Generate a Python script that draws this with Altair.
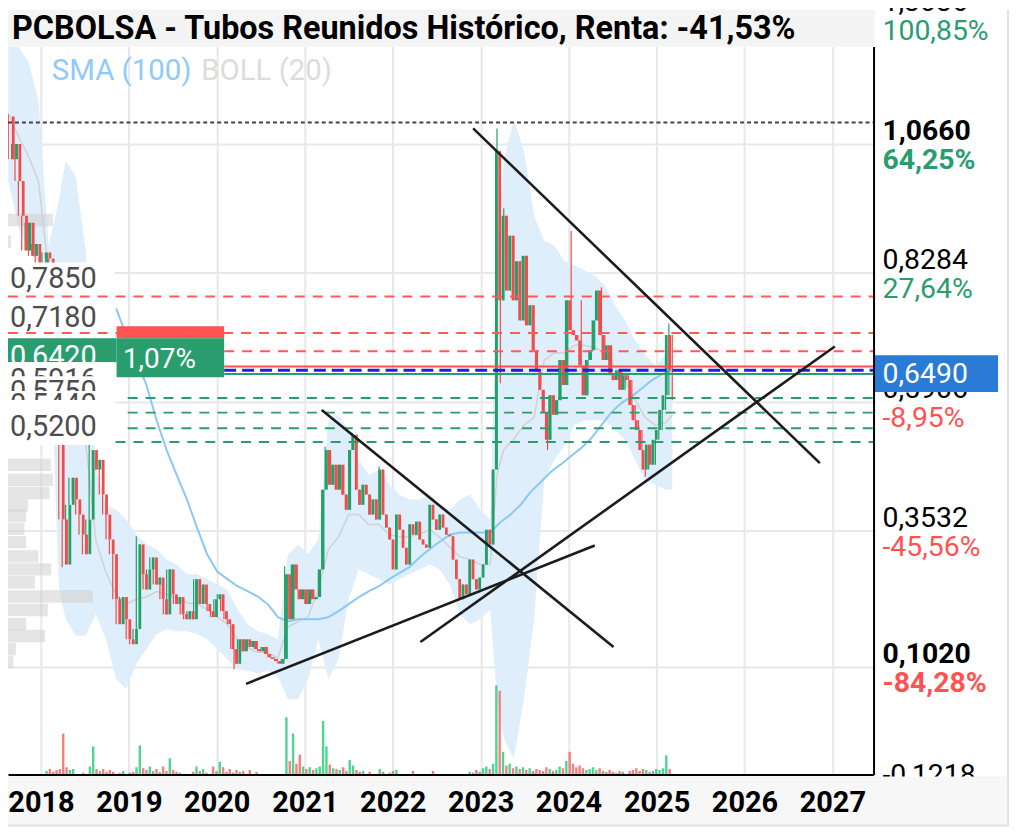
import altair as alt
import pandas as pd

FONT = "Roboto"
GREEN = "#23a06a"
RED = "#f24b4b"
TXT_GREEN = "#2a9d6f"
TXT_RED = "#ff5252"

# ---------------- candles (14-day bars) ----------------
start_date = "2017-08-18"
first_open = 1.117
closes = [
    1.038, 1.066, 0.998, 0.934, 0.870, 0.921, 0.860, 0.882, 0.824, 0.805,
    0.866, 0.855, 0.778, 0.704, 0.594, 0.374, 0.291, 0.401, 0.451, 0.411,
    0.383, 0.346, 0.310, 0.374, 0.502, 0.466, 0.484, 0.420, 0.383, 0.337,
    0.310, 0.227, 0.181, 0.231, 0.190, 0.153, 0.144, 0.172, 0.328, 0.273,
    0.245, 0.282, 0.304, 0.254, 0.267, 0.227, 0.199, 0.282, 0.236, 0.218,
    0.231, 0.199, 0.190, 0.205, 0.190, 0.264, 0.218, 0.254, 0.218, 0.205,
    0.194, 0.227, 0.236, 0.205, 0.190, 0.181, 0.135, 0.108, 0.153, 0.131,
    0.153, 0.139, 0.150, 0.135, 0.131, 0.139, 0.126, 0.120, 0.117, 0.113,
    0.108, 0.117, 0.273, 0.190, 0.291, 0.245, 0.227, 0.245, 0.218, 0.245,
    0.227, 0.231, 0.282, 0.429, 0.502, 0.438, 0.475, 0.429, 0.475, 0.420,
    0.392, 0.502, 0.530, 0.429, 0.401, 0.438, 0.420, 0.383, 0.411, 0.374,
    0.466, 0.383, 0.359, 0.337, 0.282, 0.383, 0.355, 0.322, 0.291, 0.365,
    0.346, 0.370, 0.337, 0.328, 0.322, 0.401, 0.374, 0.355, 0.383, 0.359,
    0.346, 0.343, 0.300, 0.264, 0.227, 0.254, 0.236, 0.300, 0.264, 0.245,
    0.267, 0.291, 0.355, 0.328, 0.466, 1.053, 0.778, 0.934, 0.796, 0.897,
    0.778, 0.850, 0.741, 0.860, 0.732, 0.769, 0.686, 0.646, 0.613, 0.572,
    0.521, 0.603, 0.567, 0.594, 0.668, 0.622, 0.778, 0.723, 0.714, 0.704,
    0.658, 0.603, 0.668, 0.686, 0.741, 0.796, 0.714, 0.668, 0.695, 0.640,
    0.631, 0.649, 0.613, 0.640, 0.631, 0.585, 0.557, 0.539, 0.502, 0.466,
    0.512, 0.475, 0.521, 0.539, 0.576, 0.603, 0.714, 0.649,
]
wick_idx = [0, 16, 24, 38, 67, 82, 94, 102, 110, 145, 146, 147, 160, 167, 170, 176, 189, 196, 197]
wick_high = [1.121, None, 0.515, 0.343, None, 0.288, 0.508, 0.534, 0.471, 1.095, None, 0.948,
             None, 0.906, 0.778, 0.802, None, 0.735, None]
wick_low = [None, 0.286, None, None, 0.098, None, None, None, None, None, 0.625, None,
            0.502, None, None, None, 0.453, None, 0.594]
volumes = [
    0, 0, 0, 0, 0, 0, 0, 0, 0, 0,
    0.4, 0.6, 0.3, 0.5, 0.6, 4.5, 0.8, 0.5, 0.6, 0,
    0, 0.2, 0, 0.9, 3.1, 0.6, 0.4, 0.6, 0.3, 0.5,
    0.3, 0, 0.2, 0.4, 0, 0.2, 0.3, 0.8, 3.2, 0.7,
    0.5, 0.9, 0.4, 0.6, 0.3, 0.9, 0.4, 1.8, 0.5, 0.3,
    0.2, 0, 0, 0, 0.3, 0.9, 0.4, 0.6, 0.2, 0,
    0.9, 0.4, 1.4, 0.8, 0.3, 0.6, 0.2, 0.5, 0.3, 0.4,
    0, 0.5, 0, 0.3, 0, 0, 0, 0, 0, 0,
    0, 0, 6.3, 1.5, 4.5, 1.2, 2.2, 0.9, 0.6, 0.8,
    0.5, 0.7, 0.9, 5.9, 3.1, 1.1, 0.7, 0.6, 0.5, 0.8,
    0.4, 1.6, 1.0, 0.5, 0.3, 0.4, 0, 0.3, 0, 0,
    0.6, 0.3, 0, 0.2, 0.4, 0.5, 0, 0, 0, 0,
    0.4, 0, 0, 0, 0, 0, 0.4, 0, 0, 0,
    0, 0, 0, 0, 0, 0, 0, 0.3, 0.2, 0.5,
    0.3, 0.7, 0.9, 0.6, 1.2, 9.8, 9.2, 2.5, 1.0, 1.2,
    0.7, 0.9, 0.6, 0.8, 0.5, 0.7, 0.4, 0.6, 0.5, 0.4,
    0.8, 0.6, 0.4, 0.5, 0.9, 0.7, 1.5, 2.5, 1.2, 0.8,
    1.0, 0.7, 0.5, 0.6, 0.8, 0.5, 0.7, 0.4, 0.3, 0.5,
    0.3, 0.2, 0.4, 0.3, 0, 0.4, 0.5, 0.7, 0.4, 0.6,
    0.5, 0.3, 0.4, 0.6, 0.5, 0.7, 2.1, 0.6,
]

# ---------------- Bollinger (20) ----------------
band_idx = [0, 3, 6, 9, 12, 15, 17, 20, 23, 26, 29, 32, 35, 38, 41, 44, 47, 50, 53, 56,
            59, 62, 65, 68, 71, 74, 77, 80, 83, 86, 89, 92, 95, 98, 101, 104, 107, 110, 113, 116,
            119, 122, 125, 128, 131, 134, 137, 140, 143, 145, 147, 150, 153, 156, 159, 162, 165, 168, 171, 174,
            177, 180, 183, 186, 189, 192, 195, 197]
band_upper = [1.246, 1.246, 1.218, 1.145, 0.879, 0.961, 1.035, 1.007, 0.870, 0.470,
              0.400, 0.392, 0.374, 0.346, 0.328, 0.319, 0.300, 0.291, 0.273, 0.273,
              0.264, 0.254, 0.245, 0.208, 0.181, 0.168, 0.163, 0.153, 0.310, 0.328,
              0.310, 0.337, 0.557, 0.567, 0.539, 0.484, 0.456, 0.466, 0.438, 0.420,
              0.411, 0.411, 0.420, 0.401, 0.392, 0.411, 0.420, 0.392, 0.374, 0.870,
              1.035, 1.112, 1.053, 0.934, 0.888, 0.879, 0.851, 0.842, 0.833, 0.824,
              0.805, 0.769, 0.741, 0.704, 0.677, 0.658, 0.677, 0.704]
band_lower = [0.998, 0.915, 0.870, 0.848, 0.778, 0.250, 0.190, 0.160, 0.160, 0.200,
              0.153, 0.080, 0.062, 0.108, 0.135, 0.163, 0.172, 0.168, 0.168, 0.163,
              0.153, 0.135, 0.117, 0.098, 0.095, 0.090, 0.095, 0.084, 0.043, 0.043,
              0.080, 0.153, 0.080, 0.117, 0.227, 0.282, 0.273, 0.264, 0.254, 0.264,
              0.273, 0.282, 0.291, 0.282, 0.254, 0.199, 0.181, 0.190, 0.208, 0.043,
              -0.030, -0.067, 0.043, 0.190, 0.447, 0.484, 0.511, 0.548, 0.557, 0.557,
              0.557, 0.539, 0.521, 0.484, 0.447, 0.438, 0.429, 0.429]

# ---------------- SMA (100) ----------------
sma_idx = list(range(32, 198, 3))
sma_values = [0.763, 0.714, 0.668, 0.622, 0.557, 0.502, 0.456, 0.411, 0.359, 0.310,
              0.278, 0.264, 0.251, 0.242, 0.232, 0.218, 0.194, 0.186, 0.190, 0.190,
              0.190, 0.194, 0.205, 0.218, 0.231, 0.242, 0.251, 0.264, 0.275, 0.286,
              0.304, 0.319, 0.333, 0.346, 0.350, 0.350, 0.350, 0.350, 0.369, 0.383,
              0.401, 0.425, 0.443, 0.462, 0.476, 0.491, 0.506, 0.524, 0.548, 0.572,
              0.589, 0.601, 0.616, 0.631, 0.642, 0.649]

# ---------------- volume profile ----------------
profile_price = [0.926, 0.886, 0.475, 0.447, 0.423, 0.400, 0.381, 0.357, 0.332, 0.306,
                 0.282, 0.258, 0.232, 0.207, 0.181, 0.159, 0.135, 0.111]
profile_size = [5.2, 0.35, 5.0, 5.2, 4.8, 2.3, 2.1, 1.9, 2.1, 3.5,
                5.0, 3.1, 9.8, 4.6, 2.1, 4.3, 0.9, 0.6]

# ---------------- horizontal levels ----------------
level_price = [1.106, 0.785, 0.718, 0.684, 0.656, 0.649, 0.642, 0.598, 0.571, 0.542, 0.517]
level_style = ["dot", "red_dash", "red_dash", "red_dash", "red_solid", "blue_dash",
               "green_solid", "green_dash", "green_dash", "green_dash", "green_dash"]
level_start = ["2017-08-17", "2017-08-17", "2017-08-17", "2020-02-01", "2020-02-01", "2020-02-01",
               "2020-02-01", "2018-12-27", "2018-12-27", "2018-12-27", "2017-08-17"]
level_end = ["2027-06-21"] * len(level_price)

# ---------------- trend lines ----------------
trend_start_date = ["2022-12-01", "2021-03-12", "2020-05-02", "2022-04-26"]
trend_start_price = [1.095, 0.576, 0.071, 0.148]
trend_end_date = ["2026-11-10", "2024-07-06", "2024-04-19", "2027-01-11"]
trend_end_price = [0.478, 0.139, 0.326, 0.693]

# ---------------- right axis labels ----------------
axis_values = [1.3036, 1.066, 0.8284, 0.5906, 0.3532, 0.102, -0.1218]
axis_price_labels = ["1,3036", "1,0660", "0,8284", "0,5906", "0,3532", "0,1020", "-0,1218"]
axis_pct_labels = ["100,85%", "64,25%", "27,64%", "-8,95%", "-45,56%", "-84,28%", ""]
axis_bold = [False, True, False, False, False, True, False]
grid_values = [1.066, 0.8284, 0.5906, 0.3532, 0.102]
years = list(range(2018, 2028))

title_text = "PCBOLSA - Tubos Reunidos Histórico, Renta: -41,53%"

# ---------------- build tables ----------------
candle_dates = pd.date_range(start_date, periods=len(closes), freq="14D").strftime("%Y-%m-%d").tolist()
opens = [first_open] + closes[:-1]
highs = [max(o, c) for o, c in zip(opens, closes)]
lows = [min(o, c) for o, c in zip(opens, closes)]
for i, h, l in zip(wick_idx, wick_high, wick_low):
    if h is not None:
        highs[i] = max(highs[i], h)
    if l is not None:
        lows[i] = min(lows[i], l)
candles = pd.DataFrame({"date": candle_dates, "open": opens, "close": closes,
                        "high": highs, "low": lows, "vol": volumes})
band = pd.DataFrame({"date": [candle_dates[i] for i in band_idx], "up": band_upper, "lo": band_lower})
sma = pd.DataFrame({"date": [candle_dates[i] for i in sma_idx], "sma": sma_values})
half_bin = 0.0115
profile = pd.DataFrame({"lo": [p - half_bin for p in profile_price],
                        "hi": [p + half_bin for p in profile_price],
                        "z": [0] * len(profile_price), "w": profile_size})
levels = pd.DataFrame({"p": level_price, "style": level_style, "d1": level_start, "d2": level_end})
trends = pd.DataFrame({"d1": trend_start_date, "p1": trend_start_price,
                       "d2": trend_end_date, "p2": trend_end_price})
axis_df = pd.DataFrame({"v": axis_values, "price": axis_price_labels, "pct": axis_pct_labels,
                        "bold": axis_bold,
                        "pos": [not s.startswith("-") for s in axis_pct_labels]})
one = pd.DataFrame({"k": [0]})


def ms(s):
    return int(pd.Timestamp(s).value // 10**6)


XS = alt.Scale(type="utc", domain=[ms("2017-08-17"), ms("2027-06-21")])
YS = alt.Scale(domain=[-0.0963, 1.246], nice=False, zero=False)
VS = alt.Scale(domain=[0, 80], nice=False, zero=True)
PS = alt.Scale(domain=[0, 100], nice=False, zero=True)
year_ms = [ms(f"{y}-01-01") for y in years]


def X(f="date"):
    return alt.X(f"{f}:T", scale=XS, axis=None)


def Y(f):
    return alt.Y(f"{f}:Q", scale=YS, axis=None)


def txt(s, x, y, size, color, weight="normal", align="left"):
    return alt.Chart(one).mark_text(text=s, fontSize=size, color=color, fontWeight=weight,
                                    align=align, baseline="middle", font=FONT).encode(
        x=alt.value(x), y=alt.value(y))


def box(x, x2, y, y2, color):
    return alt.Chart(one).mark_rect(color=color).encode(
        x=alt.value(x), x2=alt.value(x2), y=alt.value(y), y2=alt.value(y2))


layers = []

# grid
layers.append(alt.Chart(candles).mark_point(opacity=0).encode(
    x=alt.X("date:T", scale=XS, axis=alt.Axis(orient="bottom", values=year_ms, grid=True, gridColor="#e8e8e8",
                                              gridWidth=2, labels=False, ticks=False, domain=False,
                                              title=None, zindex=0)),
    y=alt.Y("close:Q", scale=YS, axis=alt.Axis(orient="right", values=grid_values, grid=True,
                                               gridColor="#e8e8e8", gridWidth=2, labels=False,
                                               ticks=False, domain=False, title=None, zindex=0))))

# Bollinger band
layers.append(alt.Chart(band).mark_area(color="#dcedfb", opacity=0.95, clip=True).encode(
    x=X(), y=Y("up"), y2=alt.Y2("lo")))
layers.append(alt.Chart(band).transform_calculate(mid="(datum.up + datum.lo) / 2").mark_line(
    color="#d2d2d2", strokeWidth=1.5, clip=True).encode(x=X(), y=Y("mid")))
# SMA
layers.append(alt.Chart(sma).mark_line(color="#8cc8f4", strokeWidth=2, clip=True).encode(
    x=X(), y=Y("sma")))
# volume profile
layers.append(alt.Chart(profile).mark_rect(color="#cfcfcf", opacity=0.55).encode(
    x=alt.X("z:Q", scale=PS, axis=None), x2=alt.X2("w"), y=Y("lo"), y2=alt.Y2("hi")))
# volume
layers.append(alt.Chart(candles).transform_filter("datum.vol > 0").mark_bar(size=2.4, opacity=0.9, clip=True).encode(
    x=X(), y=alt.Y("vol:Q", scale=VS, axis=None),
    color=alt.condition("datum.close >= datum.open", alt.value("#3ccf88"), alt.value("#f47272"))))
# candles
cond = alt.condition("datum.close >= datum.open", alt.value(GREEN), alt.value(RED))
layers.append(alt.Chart(candles).mark_rule(strokeWidth=1.2, clip=True).encode(
    x=X(), y=Y("low"), y2=alt.Y2("high"), color=cond))
layers.append(alt.Chart(candles).mark_bar(size=2.8, clip=True).encode(
    x=X(), y=Y("open"), y2=alt.Y2("close"), color=cond))

# white label panel on the left
layers.append(box(0, 107, 217, 400, "white"))

# levels
styles = {
    "dot": dict(color="#444444", strokeDash=[4, 3], strokeWidth=2),
    "red_dash": dict(color="#ff5a5a", strokeDash=[10, 8], strokeWidth=2),
    "red_solid": dict(color="#ff4d4d", strokeWidth=2),
    "blue_dash": dict(color="#1f1fe0", strokeDash=[12, 6], strokeWidth=3),
    "green_solid": dict(color=TXT_GREEN, strokeWidth=2),
    "green_dash": dict(color=TXT_GREEN, strokeDash=[10, 8], strokeWidth=2),
}
for name, st in styles.items():
    layers.append(alt.Chart(levels).transform_filter(alt.datum.style == name).mark_rule(clip=True, **st).encode(
        x=X("d1"), x2=alt.X2("d2"), y=Y("p")))

# trend lines
layers.append(alt.Chart(trends).mark_rule(color="#1c1c1c", strokeWidth=2.6, clip=True).encode(
    x=X("d1"), x2=alt.X2("d2"), y=Y("p1"), y2=alt.Y2("p2")))

# left labels
GRAY = "#4d4d4d"
LS = 29
layers.append(txt("0,7850", 2, 233, LS, GRAY))
layers.append(txt("0,7180", 2, 273, LS, GRAY))
layers.append(box(109, 217, 281, 293, "#ff5252"))
layers.append(box(0, 109, 293, 317, TXT_GREEN))
layers.append(box(109, 217, 293, 332, TXT_GREEN))
layers.append(txt("0,6420", 2, 312, LS, "white"))
layers.append(box(0, 107, 317, 400, "white"))
layers.append(txt("0,5916", 2, 335, LS, GRAY))
layers.append(box(0, 107, 331, 400, "white"))
layers.append(txt("0,5750", 2, 347, LS, GRAY))
layers.append(box(0, 107, 346, 400, "white"))
layers.append(txt("0,5440", 2, 360, LS, GRAY))
layers.append(box(0, 107, 355, 400, "white"))
layers.append(txt("0,5200", 2, 382, LS, GRAY))
layers.append(txt("1,07%", 152, 315, 28, "white", align="center"))

# right axis labels
RS = 28.5
for bold in (False, True):
    w = "bold" if bold else "normal"
    sub = alt.Chart(axis_df).transform_filter(alt.datum.bold == bold)
    layers.append(sub.mark_text(align="left", baseline="middle", fontSize=RS, font=FONT, fontWeight=w,
                                color="black", dy=-13).encode(
        x=alt.value(878), y=alt.Y("v:Q", scale=YS, axis=None), text="price:N"))
    layers.append(sub.mark_text(align="left", baseline="middle", fontSize=RS, font=FONT, fontWeight=w,
                                dy=16).encode(
        x=alt.value(878), y=alt.Y("v:Q", scale=YS, axis=None), text="pct:N",
        color=alt.condition("datum.pos", alt.value(TXT_GREEN), alt.value(TXT_RED))))
layers.append(box(870, 994, 310, 347, "#2a7bd8"))
layers.append(txt("0,6490", 878, 329, RS, "white"))

# title bar + legend
layers.append(box(0, 870, -37, 0, "#f4f4f4"))
layers.append(txt(title_text, 4, -18, 32.5, "black", weight="bold"))
layers.append(txt("SMA (100)", 44, 25, 29.5, "#90caf9"))
layers.append(txt("BOLL (20)", 194, 25, 29.5, "#dcdcdc"))

# bottom strip + frame
layers.append(box(0, 1004, 733, 781, "#f7f7f7"))
layers.append(alt.Chart(one).mark_rule(color="#e2e2e2", strokeWidth=2).encode(
    x=alt.value(1004), y=alt.value(-37), y2=alt.value(782)))
layers.append(alt.Chart(one).mark_rule(color="#e2e2e2", strokeWidth=2).encode(
    x=alt.value(0), x2=alt.value(1005), y=alt.value(782)))

# axes on top
layers.append(alt.Chart(candles).mark_point(opacity=0).encode(
    x=alt.X("date:T", scale=XS, axis=alt.Axis(orient="bottom", values=year_ms, format="%Y", labelFontSize=29,
                                              labelFont=FONT, labelFontWeight="bold", labelColor="black",
                                              labelPadding=14, labelFlush=False, labelOverlap=False,
                                              ticks=False, grid=False, domain=True, domainColor="black",
                                              domainWidth=2, title=None, zindex=2)),
    y=alt.Y("close:Q", scale=YS, axis=alt.Axis(orient="right", labels=False, ticks=False, grid=False,
                                               domain=True, domainColor="black", domainWidth=2,
                                               title=None, zindex=2))))

chart = alt.layer(*layers).resolve_scale(x="independent", y="independent").properties(
    width=869, height=731,
    padding={"left": 0, "top": 37, "right": 139, "bottom": 54},
    autosize=alt.AutoSizeParams(type="none"),
    background="white",
).configure_view(stroke=None)

chart.save("out.html", embed_options={"renderer": "svg", "actions": False})
